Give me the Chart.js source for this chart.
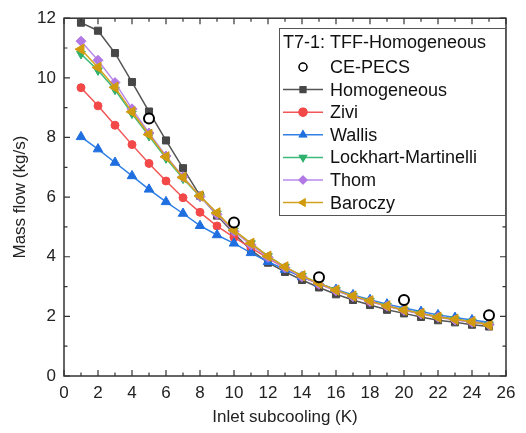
<!DOCTYPE html>
<html>
<head>
<meta charset="utf-8">
<script src="https://cdn.jsdelivr.net/npm/chart.js@4"></script>
<style>
  html, body { margin: 0; padding: 0; background: #fff; }
  #wrap { width: 526px; height: 433px; }
</style>
</head>
<body>
<div id="wrap"><canvas id="chart" width="526" height="433"></canvas></div>
<script>
// 데이터
const subcooling = [1, 2, 3, 4, 5, 6, 7, 8, 9, 10, 11, 12, 13, 14, 15, 16, 17, 18, 19, 20, 21, 22, 23, 24, 25];
const homogeneous = [11.85, 11.58, 10.83, 9.86, 8.87, 7.9, 6.97, 6.05, 5.38, 4.78, 4.22, 3.8, 3.49, 3.22, 2.97, 2.74, 2.55, 2.38, 2.22, 2.1, 1.98, 1.87, 1.8, 1.72, 1.66];
const zivi = [9.67, 9.06, 8.41, 7.76, 7.13, 6.54, 5.98, 5.49, 5.03, 4.65, 4.3, 3.95, 3.62, 3.33, 3.08, 2.87, 2.68, 2.5, 2.35, 2.22, 2.1, 2.0, 1.9, 1.82, 1.75];
const wallis = [8.02, 7.61, 7.16, 6.71, 6.26, 5.84, 5.45, 5.04, 4.73, 4.45, 4.13, 3.83, 3.57, 3.32, 3.1, 2.9, 2.72, 2.56, 2.41, 2.28, 2.16, 2.05, 1.96, 1.88, 1.8];
const lockhart = [10.8, 10.25, 9.6, 8.8, 8.05, 7.3, 6.62, 6.02, 5.45, 4.88, 4.45, 4.02, 3.66, 3.36, 3.11, 2.88, 2.68, 2.52, 2.35, 2.21, 2.1, 1.98, 1.9, 1.82, 1.73];
const thom = [11.23, 10.59, 9.84, 8.96, 8.15, 7.38, 6.68, 6.02, 5.42, 4.85, 4.4, 3.98, 3.63, 3.33, 3.08, 2.86, 2.66, 2.5, 2.34, 2.2, 2.08, 1.97, 1.88, 1.8, 1.72];
const baroczy = [10.96, 10.35, 9.68, 8.86, 8.1, 7.35, 6.66, 6.04, 5.47, 4.89, 4.45, 4.02, 3.66, 3.36, 3.11, 2.88, 2.68, 2.52, 2.35, 2.21, 2.1, 1.97, 1.9, 1.82, 1.71];
const pecsX = [5, 10, 15, 20, 25];
const pecsY = [8.64, 5.15, 3.31, 2.55, 2.04];

const legendTitle = 'T7-1: TFF-Homogeneous';
const FONT = "'Liberation Sans', Arial, sans-serif";

function pts(xs, ys) {
    return xs.map((x, i) => ({ x: x, y: ys[i] }));
}

function lineSet(label, ys, color, markColor, style, radius, rotation) {
    return {
        label: label,
        data: pts(subcooling, ys),
        borderColor: color,
        backgroundColor: markColor,
        borderWidth: 1.5,
        pointStyle: style,
        pointRadius: radius,
        pointRotation: rotation || 0,
        pointBorderColor: markColor,
        pointBackgroundColor: markColor,
        pointBorderWidth: 1,
        showLine: true,
        tension: 0
    };
}

const datasets = [
    {
        label: 'CE-PECS',
        data: pts(pecsX, pecsY),
        showLine: false,
        pointStyle: 'circle',
        pointRadius: 5,
        pointBorderWidth: 2,
        pointBorderColor: '#000',
        pointBackgroundColor: '#fff',
        borderColor: '#000',
        backgroundColor: '#fff'
    },
    lineSet('Baroczy', baroczy, '#d4a21c', '#d19b10', 'triangle', 6, -90),
    lineSet('Thom', thom, '#b98ae8', '#b279e6', 'rectRot', 5),
    lineSet('Lockhart-Martinelli', lockhart, '#3cbb7a', '#2fb06c', 'triangle', 5, 180),
    lineSet('Wallis', wallis, '#3080e6', '#1f6fe0', 'triangle', 5.5),
    lineSet('Zivi', zivi, '#f25656', '#f34848', 'circle', 4),
    lineSet('Homogeneous', homogeneous, '#555555', '#474747', 'rect', 5)
];

// 안쪽 눈금 + 테두리
const framePlugin = {
    id: 'frame',
    afterDraw(chart) {
        const ctx = chart.ctx;
        const a = chart.chartArea;
        const xs = chart.scales.x, ys = chart.scales.y;
        ctx.save();
        ctx.strokeStyle = '#333';
        ctx.lineWidth = 1.5;
        ctx.strokeRect(a.left, a.top, a.right - a.left, a.bottom - a.top);
        ctx.lineWidth = 1.2;
        ctx.beginPath();
        for (let v = 0; v <= 26; v++) {
            const px = xs.getPixelForValue(v);
            const len = v % 2 === 0 ? 6 : 3.5;
            ctx.moveTo(px, a.bottom); ctx.lineTo(px, a.bottom - len);
            ctx.moveTo(px, a.top); ctx.lineTo(px, a.top + len);
        }
        for (let v = 0; v <= 12; v++) {
            const py = ys.getPixelForValue(v);
            const len = v % 2 === 0 ? 6 : 3.5;
            ctx.moveTo(a.left, py); ctx.lineTo(a.left + len, py);
            ctx.moveTo(a.right, py); ctx.lineTo(a.right - len, py);
        }
        ctx.stroke();
        ctx.restore();
    }
};

// 범례 상자
const legendPlugin = {
    id: 'boxLegend',
    afterDraw(chart) {
        const ctx = chart.ctx;
        const x0 = 279, y0 = 28, w = 226, h = 187;
        ctx.save();
        ctx.fillStyle = '#fff';
        ctx.fillRect(x0, y0, w, h);
        ctx.strokeStyle = '#555';
        ctx.lineWidth = 1;
        ctx.strokeRect(x0 + 0.5, y0 + 0.5, w, h);
        ctx.font = '18px ' + FONT;
        ctx.fillStyle = '#111';
        ctx.textBaseline = 'middle';
        ctx.fillText(legendTitle, x0 + 4, y0 + 15);
        const order = ['CE-PECS', 'Homogeneous', 'Zivi', 'Wallis', 'Lockhart-Martinelli', 'Thom', 'Baroczy'];
        order.forEach((name, i) => {
            const ds = chart.data.datasets.find(d => d.label === name);
            const cy = y0 + 39 + i * 22.6;
            const mx = x0 + 24;
            if (ds.showLine !== false) {
                ctx.strokeStyle = ds.borderColor;
                ctx.lineWidth = 1.5;
                ctx.beginPath();
                ctx.moveTo(x0 + 4, cy); ctx.lineTo(x0 + 44, cy);
                ctx.stroke();
            }
            Chart.helpers.drawPoint(ctx, {
                pointStyle: ds.pointStyle,
                rotation: ds.pointRotation || 0,
                radius: 4,
                borderWidth: ds.label === 'CE-PECS' ? 1.5 : 1
            }, mx, cy);
            ctx.fillStyle = ds.pointBackgroundColor;
            ctx.strokeStyle = ds.pointBorderColor;
            ctx.lineWidth = ds.label === 'CE-PECS' ? 1.5 : 1;
            ctx.fill();
            ctx.stroke();
            ctx.fillStyle = '#111';
            ctx.fillText(name, x0 + 51, cy + 1);
        });
        ctx.restore();
    }
};

const ctx = document.getElementById('chart').getContext('2d');
new Chart(ctx, {
    type: 'scatter',
    data: { datasets: datasets },
    options: {
        responsive: false,
        animation: false,
        devicePixelRatio: 1,
        layout: { padding: { left: 0, top: 18, right: 20, bottom: 0 } },
        plugins: {
            legend: { display: false },
            tooltip: { enabled: false }
        },
        scales: {
            x: {
                type: 'linear',
                min: 0,
                max: 26,
                afterFit: s => { s.height = 57; },
                ticks: { stepSize: 2, padding: 7, color: '#222', font: { family: FONT, size: 17 } },
                grid: { display: false, drawTicks: false },
                border: { display: false },
                title: {
                    display: true,
                    text: 'Inlet subcooling (K)',
                    color: '#222',
                    font: { family: FONT, size: 17 },
                    padding: { top: 4, bottom: 5 }
                }
            },
            y: {
                type: 'linear',
                min: 0,
                max: 12,
                afterFit: s => { s.width = 64; },
                ticks: { stepSize: 2, padding: 8, color: '#222', font: { family: FONT, size: 17 } },
                grid: { display: false, drawTicks: false },
                border: { display: false },
                title: {
                    display: true,
                    text: 'Mass flow (kg/s)',
                    color: '#222',
                    font: { family: FONT, size: 17 },
                    padding: { top: 10, bottom: 4 }
                }
            }
        }
    },
    plugins: [framePlugin, legendPlugin]
});
</script>
</body>
</html>
